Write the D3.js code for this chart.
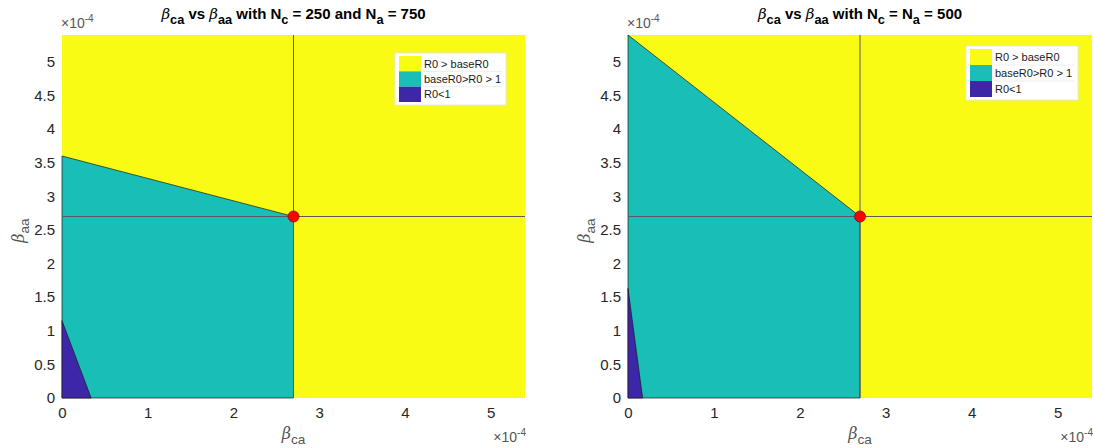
<!DOCTYPE html>
<html>
<head>
<meta charset="utf-8">
<script src="https://cdn.jsdelivr.net/npm/d3@7"></script>
<style>
  html, body { margin: 0; padding: 0; background: #fff; }
  svg { display: block; font-family: "Liberation Sans", Arial, sans-serif; }
</style>
</head>
<body>
<svg id="chart" width="1094" height="448"></svg>
<script>
// Values are in units of 1e-4 (shown by the ×10^-4 axis multipliers)
const axisMax = 5.4;
const xTicks = [0, 1, 2, 3, 4, 5];
const yTicks = [0, 0.5, 1, 1.5, 2, 2.5, 3, 3.5, 4, 4.5, 5];
const basePoint = [2.7, 2.7];

const legendLabels = ["R0 > baseR0", "baseR0>R0 > 1", "R0<1"];
const regionColors = ["#F9FB15", "#19BEB6", "#3E26A8"];

// Region outlines (beta_ca, beta_aa), Nc = 250, Na = 750
const leftTeal = [[0, 0], [0, 3.6], [2.7, 2.7], [2.7, 0]];
const leftPurple = [[0, 0], [0, 1.15], [0.34, 0]];
// Region outlines, Nc = Na = 500
const rightTeal = [[0, 0], [0, 5.4], [2.7, 2.7], [2.7, 0]];
const rightPurple = [[0, 0], [0, 1.63], [0.17, 0]];

const titles = [
  [["β", "i"], ["ca", "sub"], [" vs ", ""], ["β", "i"], ["aa", "sub"], [" with N", ""], ["c", "sub"], [" = 250 and N", ""], ["a", "sub"], [" = 750", ""]],
  [["β", "i"], ["ca", "sub"], [" vs ", ""], ["β", "i"], ["aa", "sub"], [" with N", ""], ["c", "sub"], [" = N", ""], ["a", "sub"], [" = 500", ""]]
];

const panels = [
  { x0: 62, x1: 525, y0: 35, y1: 398, teal: leftTeal, purple: leftPurple, title: titles[0],
    legend: { x: 395, y: 53, w: 111, h: 52 } },
  { x0: 628, x1: 1092, y0: 35, y1: 398, teal: rightTeal, purple: rightPurple, title: titles[1],
    legend: { x: 966, y: 46, w: 112, h: 54 } }
];

const svg = d3.select("#chart");

function richText(sel, parts, baseSize) {
  parts.forEach(([txt, kind]) => {
    const t = sel.append("tspan").text(txt);
    if (kind === "i") t.attr("font-style", "italic").attr("font-weight", "normal").attr("font-family", "DejaVu Serif, serif");
    if (kind === "sub") t.attr("baseline-shift", "-35%").attr("font-size", baseSize * 0.85);
  });
}

panels.forEach(p => {
  const x = d3.scaleLinear().domain([0, axisMax]).range([p.x0, p.x1]);
  const y = d3.scaleLinear().domain([0, axisMax]).range([p.y1, p.y0]);
  const g = svg.append("g");
  const line = d3.line().x(d => x(d[0])).y(d => y(d[1]));

  // background region: R0 > baseR0
  g.append("rect").attr("x", x(0)).attr("y", y(axisMax))
    .attr("width", x(axisMax) - x(0)).attr("height", y(0) - y(axisMax))
    .attr("fill", regionColors[0]);

  g.append("path").attr("d", line(p.teal) + "Z")
    .attr("fill", regionColors[1]).attr("stroke", "#1a1a1a").attr("stroke-width", 0.7);
  g.append("path").attr("d", line(p.purple) + "Z")
    .attr("fill", regionColors[2]).attr("stroke", "#1a1a1a").attr("stroke-width", 0.7);

  // reference lines through the base point
  g.append("line").attr("x1", x(basePoint[0])).attr("x2", x(basePoint[0]))
    .attr("y1", y(0)).attr("y2", y(axisMax)).attr("stroke", "#5a5a5a").attr("stroke-width", 1);
  g.append("line").attr("x1", x(0)).attr("x2", x(axisMax))
    .attr("y1", y(basePoint[1])).attr("y2", y(basePoint[1])).attr("stroke", "#5a5a5a").attr("stroke-width", 1);

  g.append("circle").attr("cx", x(basePoint[0])).attr("cy", y(basePoint[1])).attr("r", 5.5)
    .attr("fill", "#FF0000").attr("stroke", "#7a1020").attr("stroke-width", 0.8);

  // axes
  const xAxis = d3.axisBottom(x).tickValues(xTicks).tickSize(0).tickPadding(9).tickFormat(d3.format("d"));
  const yAxis = d3.axisLeft(y).tickValues(yTicks).tickSize(0).tickPadding(7).tickFormat(d => String(d));
  const gx = g.append("g").attr("transform", `translate(0,${p.y1})`).call(xAxis);
  const gy = g.append("g").attr("transform", `translate(${p.x0},0)`).call(yAxis);
  [gx, gy].forEach(a => {
    a.select(".domain").remove();
    a.selectAll("text").attr("font-size", 15).attr("fill", "#262626")
      .attr("font-family", "Liberation Sans, Arial, sans-serif");
  });

  // exponent multipliers
  const e1 = g.append("text").attr("x", p.x0 - 1).attr("y", 28).attr("font-size", 14).attr("fill", "#555");
  e1.append("tspan").text("×10");
  e1.append("tspan").text("-4").attr("font-size", 10).attr("dy", -6);
  const e2 = g.append("text").attr("x", p.x1 + 1).attr("y", 442).attr("font-size", 14).attr("fill", "#555")
    .attr("text-anchor", "end");
  e2.append("tspan").text("×10");
  e2.append("tspan").text("-4").attr("font-size", 10).attr("dy", -6);

  // axis labels
  const xl = g.append("text").attr("x", (p.x0 + p.x1) / 2).attr("y", 439)
    .attr("text-anchor", "middle").attr("font-size", 16).attr("fill", "#555");
  richText(xl, [["β", "i"], ["ca", "sub"]], 16);
  const yl = g.append("text").attr("transform", `translate(${p.x0 - 38},${(p.y0 + p.y1) / 2 + 14}) rotate(-90)`)
    .attr("text-anchor", "middle").attr("font-size", 16).attr("fill", "#555");
  richText(yl, [["β", "i"], ["aa", "sub"]], 16);

  // title
  const tt = g.append("text").attr("x", (p.x0 + p.x1) / 2).attr("y", 19)
    .attr("text-anchor", "middle").attr("font-size", 15).attr("font-weight", "bold").attr("fill", "#000");
  richText(tt, p.title, 15);

  // legend
  const L = p.legend;
  const lg = g.append("g");
  lg.append("rect").attr("x", L.x).attr("y", L.y).attr("width", L.w).attr("height", L.h)
    .attr("fill", "#fff").attr("stroke", "#e6e6e6").attr("stroke-width", 1);
  const rowH = (L.h - 6) / 3;
  legendLabels.forEach((lab, i) => {
    const ry = L.y + 3 + i * rowH;
    lg.append("rect").attr("x", L.x + 4).attr("y", ry).attr("width", 22).attr("height", rowH)
      .attr("fill", regionColors[i]);
    lg.append("text").attr("x", L.x + 29).attr("y", ry + rowH / 2 + 4)
      .attr("font-size", 11).attr("fill", "#1a1a1a").text(lab);
    if (i < 2) {
      lg.append("line").attr("x1", L.x + 28).attr("x2", L.x + L.w - 4)
        .attr("y1", ry + rowH).attr("y2", ry + rowH).attr("stroke", "#ececec").attr("stroke-width", 1);
    }
  });
});
</script>
</body>
</html>
